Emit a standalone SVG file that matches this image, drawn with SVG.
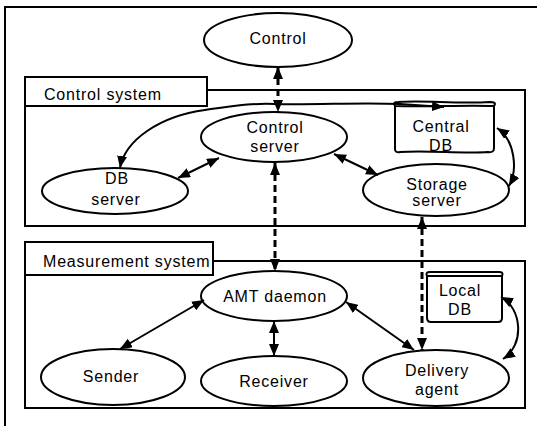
<svg xmlns="http://www.w3.org/2000/svg" width="537" height="426" viewBox="0 0 537 426">
  <style>
    .frame { fill: #fff; stroke: #000; stroke-width: 2; }
    .node { fill: #fff; stroke: #000; stroke-width: 2; }
    .lbl { font-family: "Liberation Sans", Arial, sans-serif; font-size: 16px; letter-spacing: 0.8px; fill: #000; text-anchor: middle; }
    .title { font-family: "Liberation Sans", Arial, sans-serif; font-size: 16px; letter-spacing: 0.8px; fill: #000; }
    .link { fill: none; stroke: #000; stroke-width: 2; marker-start: url(#arrow); marker-end: url(#arrow); }
    .dash { fill: none; stroke: #000; stroke-width: 3; stroke-dasharray: 7 4; marker-start: url(#arrow); marker-end: url(#arrow); }
  </style>
  <defs>
    <marker id="arrow" viewBox="0 0 12 10" refX="12" refY="5" markerWidth="12" markerHeight="10" markerUnits="userSpaceOnUse" orient="auto-start-reverse">
      <path d="M0 0 L12 5 L0 10 Z" fill="#000"/>
    </marker>
  </defs>

  <rect width="537" height="426" fill="#fff"/>

  <!-- outer frame -->
  <rect x="5" y="7" width="600" height="500" fill="none" stroke="#000" stroke-width="2"/>

  <!-- subsystem frames -->
  <g id="control-system">
    <rect class="frame" x="25" y="90" width="500" height="136"/>
    <rect class="frame" x="25" y="77" width="182" height="29"/>
    <text class="title" x="44" y="100">Control system</text>
  </g>
  <g id="measurement-system">
    <rect class="frame" x="25" y="261" width="500" height="147"/>
    <rect class="frame" x="25" y="242" width="188" height="33"/>
    <text class="title" x="43" y="267">Measurement system</text>
  </g>

  <!-- nodes -->
  <g id="control">
    <ellipse class="node" cx="278" cy="40" rx="74" ry="27"/>
    <text class="lbl" x="278" y="44">Control</text>
  </g>
  <g id="control-server">
    <ellipse class="node" cx="274" cy="137" rx="73" ry="25"/>
    <text class="lbl" x="275" y="133">Control</text>
    <text class="lbl" x="275" y="152">server</text>
  </g>
  <g id="db-server">
    <ellipse class="node" cx="115" cy="191" rx="73" ry="23"/>
    <text class="lbl" x="117" y="184">DB</text>
    <text class="lbl" x="116" y="205">server</text>
  </g>
  <g id="central-db">
    <path class="node" d="M395 105 L395 149 Q395 153 400 152 C430 150 460 154 488 152 Q494 153 494 148 L494 105 Z"/>
    <path class="node" d="M395 106 Q392 102 398 102 C425 100 455 104 490 102 Q497 102 494 106 C460 105 430 107 395 106 Z"/>
    <text class="lbl" x="441" y="132">Central</text>
    <text class="lbl" x="441" y="151">DB</text>
  </g>
  <g id="storage-server">
    <ellipse class="node" cx="436" cy="190" rx="73" ry="26"/>
    <text class="lbl" x="437" y="190">Storage</text>
    <text class="lbl" x="437" y="206">server</text>
  </g>
  <g id="amt-daemon">
    <ellipse class="node" cx="274" cy="296" rx="73" ry="25"/>
    <text class="lbl" x="275" y="302">AMT daemon</text>
  </g>
  <g id="local-db">
    <path class="node" d="M427 276 L427 318 Q427 322 431 322 L498 322 Q502 322 502 318 L502 276 Z"/>
    <path class="node" d="M427 276 Q425 272 430 272 L499 272 Q504 272 502 276 Z"/>
    <text class="lbl" x="460" y="296">Local</text>
    <text class="lbl" x="460" y="315">DB</text>
  </g>
  <g id="sender">
    <ellipse class="node" cx="113" cy="377" rx="72" ry="28"/>
    <text class="lbl" x="111" y="382">Sender</text>
  </g>
  <g id="receiver">
    <ellipse class="node" cx="274" cy="381" rx="73" ry="25"/>
    <text class="lbl" x="274" y="387">Receiver</text>
  </g>
  <g id="delivery-agent">
    <ellipse class="node" cx="436" cy="378" rx="73" ry="28"/>
    <text class="lbl" x="437" y="376">Delivery</text>
    <text class="lbl" x="437" y="395">agent</text>
  </g>

  <!-- connectors -->
  <g id="connectors">
    <path class="dash" d="M278 67 L278 112"/>
    <path class="dash" d="M275 163 L275 271"/>
    <path class="dash" d="M422 217 L422 350"/>
    <path class="link" d="M219 158 L178 178"/>
    <path class="link" d="M334 154 L378 175"/>
    <path class="link" d="M120 168 C125 140 160 116 205 110 C235 106 250 103 275 104 C320 105 360 102 400 104 L444 107"/>
    <path class="link" d="M497 128 C515 140 518 170 509 186"/>
    <path class="link" d="M501 297 C522 308 525 345 503 359"/>
    <path class="link" d="M204 300 L120 349"/>
    <path class="link" d="M346 302 L414 350"/>
    <path class="link" d="M274 321 L274 356"/>
  </g>
</svg>
